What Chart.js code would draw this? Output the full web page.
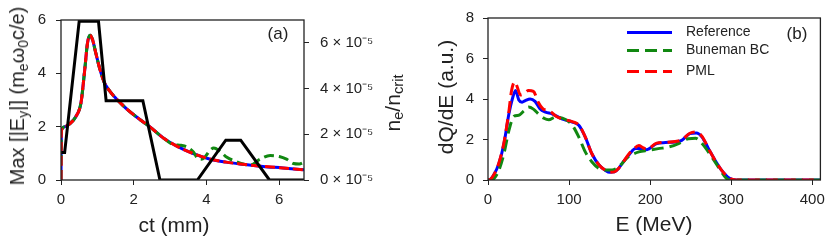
<!DOCTYPE html>
<html>
<head>
<meta charset="utf-8">
<script src="https://cdn.jsdelivr.net/npm/chart.js@4.4.1/dist/chart.umd.min.js"></script>
<style>
  body { margin: 0; background: #fff; }
  #wrap { position: relative; width: 831px; height: 246px; font-family: "Liberation Sans", Arial, sans-serif; color: #222; }
  #wrap canvas { position: absolute; top: 0; }
  .lbl { position: absolute; white-space: nowrap; line-height: 1; transform: translate(-50%, -50%); }
  .rot { transform: translate(-50%, -50%) rotate(-90deg); }
  .lbl sub { font-size: 70%; vertical-align: -0.25em; line-height: 0; }
</style>
</head>
<body>
<div id="wrap">
  <canvas id="fieldChart" width="420" height="246" style="left:0"></canvas>
  <canvas id="spectrumChart" width="411" height="246" style="left:420px"></canvas>

  <div class="lbl rot" style="left:17px; top:96px; font-size:20px;">Max [|E<sub>y</sub>|] (m<sub>e</sub>ω<sub>0</sub>c/e)</div>
  <div class="lbl rot" style="left:392px; top:103px; font-size:21px;">n<sub>e</sub>/n<sub>crit</sub></div>
  <div class="lbl" style="left:174px; top:224px; font-size:21px;">ct (mm)</div>
  <div class="lbl" style="left:278px; top:33px; font-size:17px;">(a)</div>

  <div class="lbl rot" style="left:445px; top:97px; font-size:21px;">dQ/dE (a.u.)</div>
  <div class="lbl" style="left:654px; top:223px; font-size:21px;">E (MeV)</div>
  <div class="lbl" style="left:797px; top:33px; font-size:17px;">(b)</div>
</div>

<script>
// ---- panel (a): max field vs propagation distance ----
const ctField = [0, 0.01, 0.1, 0.23, 0.41, 0.55, 0.65, 0.73, 0.8, 0.87, 0.95, 1.06, 1.19, 1.33, 1.7, 2.06, 2.43, 2.8, 3.17, 3.62, 4.08, 4.54, 5.0, 5.55, 6.1, 6.68];
const fieldRef = [0, 1.85, 2.0, 2.1, 2.38, 2.9, 4.1, 5.15, 5.43, 5.25, 4.8, 4.2, 3.66, 3.35, 2.8, 2.38, 2.01, 1.59, 1.28, 1.0, 0.79, 0.67, 0.59, 0.51, 0.45, 0.38];
const fieldPml = [0, 1.85, 2.0, 2.1, 2.38, 2.9, 4.1, 5.15, 5.43, 5.25, 4.8, 4.2, 3.66, 3.35, 2.8, 2.38, 2.01, 1.59, 1.28, 1.0, 0.79, 0.67, 0.59, 0.51, 0.45, 0.38];
const ctBuneman = [0, 0.01, 0.1, 0.23, 0.41, 0.55, 0.65, 0.73, 0.8, 0.87, 0.95, 1.06, 1.19, 1.33, 1.7, 2.06, 2.43, 2.8, 3.05, 3.3, 3.46, 3.64, 3.75, 3.85, 3.95, 4.1, 4.2, 4.35, 4.56, 4.8, 5.0, 5.2, 5.47, 5.75, 6.0, 6.2, 6.39, 6.55, 6.68];
const fieldBuneman = [0, 1.85, 2.0, 2.1, 2.38, 2.9, 4.1, 5.15, 5.43, 5.25, 4.8, 4.2, 3.66, 3.35, 2.8, 2.38, 2.01, 1.59, 1.35, 1.3, 1.24, 1.05, 0.82, 0.78, 0.85, 1.12, 1.2, 1.1, 0.85, 0.7, 0.6, 0.56, 0.78, 0.92, 0.88, 0.78, 0.62, 0.6, 0.66];
const ctDensity = [0, 0.1, 0.5, 1.03, 1.24, 2.25, 2.72, 3.75, 4.53, 4.94, 5.73, 6.68];
const density = [1.2e-5, 1.2e-5, 6.95e-5, 6.95e-5, 3.47e-5, 3.47e-5, 0, 0, 1.74e-5, 1.74e-5, 0, 0];
const fieldTicks = [0, 2, 4, 6];
const densityTicks = [0, 2e-5, 4e-5, 6e-5];

// ---- panel (b): electron spectra ----
const seriesNames = ['Reference', 'Buneman BC', 'PML'];
const energyRef = [0, 1, 7, 13.5, 19.7, 25.8, 30, 34, 38, 42, 46, 52, 58, 64, 71, 79, 91, 104, 112, 120, 128, 137, 145, 150, 156, 161, 167, 174, 182, 188, 196, 208, 219, 231, 239, 249, 257, 264, 272, 280, 288, 298, 306, 410];
const spectrumRef = [0, 0, 0.25, 0.82, 1.8, 3.27, 4.0, 4.42, 3.95, 3.84, 3.92, 4.0, 3.88, 3.52, 3.35, 3.27, 3.02, 2.86, 2.7, 2.12, 1.31, 0.74, 0.47, 0.38, 0.4, 0.57, 0.9, 1.25, 1.55, 1.55, 1.5, 1.8, 1.85, 1.88, 1.96, 2.29, 2.32, 2.12, 1.55, 0.98, 0.49, 0.08, 0, 0];
const energyBuneman = [0, 5, 9, 13.5, 19.7, 25.8, 32, 38, 44, 50, 56, 62, 69, 75, 83, 95, 104, 112, 120, 128, 137, 145, 153, 161, 173, 186, 198, 210, 223, 235, 247, 256, 264, 276, 284, 294, 300, 410];
const spectrumBuneman = [0, 0, 0.15, 0.49, 1.31, 2.45, 3.15, 3.2, 3.4, 3.6, 3.5, 3.27, 3.05, 2.97, 3.1, 3.0, 2.7, 2.12, 1.39, 0.9, 0.57, 0.49, 0.49, 0.65, 1.14, 1.39, 1.47, 1.55, 1.63, 1.8, 2.04, 2.06, 1.8, 1.14, 0.65, 0.08, 0, 0];
const energyPml = [0, 1, 7, 13.5, 19.7, 25.8, 29, 33, 36, 40, 44, 50, 56, 62, 68, 75, 85, 91, 104, 112, 120, 128, 137, 145, 150, 156, 161, 167, 174, 180, 186, 191, 196, 208, 219, 231, 239, 249, 257, 264, 272, 280, 288, 298, 306, 410];
const spectrumPml = [0, 0, 0.25, 0.85, 1.85, 3.4, 4.4, 4.85, 4.6, 4.2, 4.25, 4.42, 4.38, 3.84, 3.51, 3.43, 3.12, 3.02, 2.88, 2.72, 2.12, 1.31, 0.74, 0.47, 0.38, 0.4, 0.57, 0.9, 1.3, 1.55, 1.7, 1.6, 1.52, 1.82, 1.86, 1.9, 1.98, 2.31, 2.37, 2.15, 1.55, 0.98, 0.49, 0.08, 0, 0];
const energyTicks = [0, 100, 200, 300, 400];
const spectrumTicks = [0, 2, 4, 6, 8];

const ink = '#222';
Chart.defaults.font.family = '"Liberation Sans", Arial, sans-serif';
Chart.defaults.font.size = 15;
Chart.defaults.color = ink;

const pts = (xs, ys) => xs.map((x, i) => ({ x: x, y: ys[i] }));

function axis(min, max, ticks, extra) {
  return Object.assign({
    type: 'linear', min: min, max: max,
    afterBuildTicks: s => { s.ticks = ticks.map(v => ({ value: v })); },
    grid: { drawOnChartArea: false, drawTicks: true, tickLength: 5, color: ink, lineWidth: 1 },
    border: { display: false },
    title: { display: false }
  }, extra);
}

// box around the plot area
const frame = {
  id: 'frame',
  afterDatasetsDraw(chart) {
    const { ctx, chartArea: a } = chart;
    ctx.save();
    ctx.strokeStyle = ink;
    ctx.lineWidth = 1.3;
    ctx.strokeRect(a.left, a.top, a.right - a.left, a.bottom - a.top);
    ctx.restore();
  }
};

// legend drawn inside the plot area, top right
const insideLegend = {
  id: 'insideLegend',
  afterDatasetsDraw(chart) {
    const { ctx, chartArea: a } = chart;
    const rows = [14.5, 32.5, 53.5];
    ctx.save();
    seriesNames.forEach((name, i) => {
      const ds = chart.data.datasets.find(d => d.label === name);
      const y = a.top + rows[i];
      const x0 = a.left + 139;
      ctx.strokeStyle = ds.borderColor;
      ctx.lineWidth = ds.borderWidth;
      ctx.setLineDash(ds.borderDash || []);
      ctx.beginPath();
      ctx.moveTo(x0, y);
      ctx.lineTo(x0 + 45, y);
      ctx.stroke();
      ctx.setLineDash([]);
      ctx.fillStyle = ink;
      ctx.font = '14px "Liberation Sans", Arial, sans-serif';
      ctx.textBaseline = 'middle';
      ctx.fillText(name, x0 + 59, y);
    });
    ctx.restore();
  }
};

const lineBase = { pointRadius: 0, fill: false, cubicInterpolationMode: 'monotone' };

new Chart(document.getElementById('fieldChart'), {
  type: 'line',
  data: {
    datasets: [
      Object.assign({}, lineBase, { label: 'density', yAxisID: 'y2', data: pts(ctDensity, density), borderColor: '#000', borderWidth: 3, cubicInterpolationMode: 'default', tension: 0, order: 0 }),
      Object.assign({}, lineBase, { label: 'PML', yAxisID: 'y', data: pts(ctField, fieldPml), borderColor: '#ff0000', borderWidth: 3, borderDash: [10, 4], order: 1 }),
      Object.assign({}, lineBase, { label: 'Buneman BC', yAxisID: 'y', data: pts(ctBuneman, fieldBuneman), borderColor: '#118811', borderWidth: 3, borderDash: [10, 5], order: 2 }),
      Object.assign({}, lineBase, { label: 'Reference', yAxisID: 'y', data: pts(ctField, fieldRef), borderColor: '#0000ff', borderWidth: 3, order: 3 })
    ]
  },
  options: {
    responsive: false, animation: false, devicePixelRatio: 1,
    layout: { padding: { top: 16, left: 0, right: 0, bottom: 0 } },
    plugins: { legend: { display: false }, tooltip: { enabled: false } },
    scales: {
      x: axis(0, 6.68, fieldTicks, { position: 'bottom', ticks: { padding: 6, maxRotation: 0 }, afterFit: s => { s.height = 66; } }),
      y: axis(0, 6, fieldTicks, { position: 'left', ticks: { padding: 10 }, afterFit: s => { s.width = 61; } }),
      y2: axis(0, 7e-5, densityTicks, {
        position: 'right',
        ticks: { padding: 11, callback: v => Math.round(v * 1e5) + ' \u00d7 10\u207b\u2075' },
        afterFit: s => { s.width = 116; }
      })
    }
  },
  plugins: [frame]
});

new Chart(document.getElementById('spectrumChart'), {
  type: 'line',
  data: {
    datasets: [
      Object.assign({}, lineBase, { label: 'PML', data: pts(energyPml, spectrumPml), borderColor: '#ff0000', borderWidth: 3, borderDash: [12, 6], order: 0 }),
      Object.assign({}, lineBase, { label: 'Buneman BC', data: pts(energyBuneman, spectrumBuneman), borderColor: '#118811', borderWidth: 3, borderDash: [12, 6], order: 1 }),
      Object.assign({}, lineBase, { label: 'Reference', data: pts(energyRef, spectrumRef), borderColor: '#0000ff', borderWidth: 3, order: 2 })
    ]
  },
  options: {
    responsive: false, animation: false, devicePixelRatio: 1,
    layout: { padding: { top: 16, left: 0, right: 8, bottom: 0 } },
    plugins: { legend: { display: false }, tooltip: { enabled: false } },
    scales: {
      x: axis(0, 410, energyTicks, { position: 'bottom', ticks: { padding: 6, maxRotation: 0 }, afterFit: s => { s.height = 66; } }),
      y: axis(0, 8, spectrumTicks, { position: 'left', ticks: { padding: 9 }, afterFit: s => { s.width = 68; } })
    }
  },
  plugins: [frame, insideLegend]
});
</script>
</body>
</html>
